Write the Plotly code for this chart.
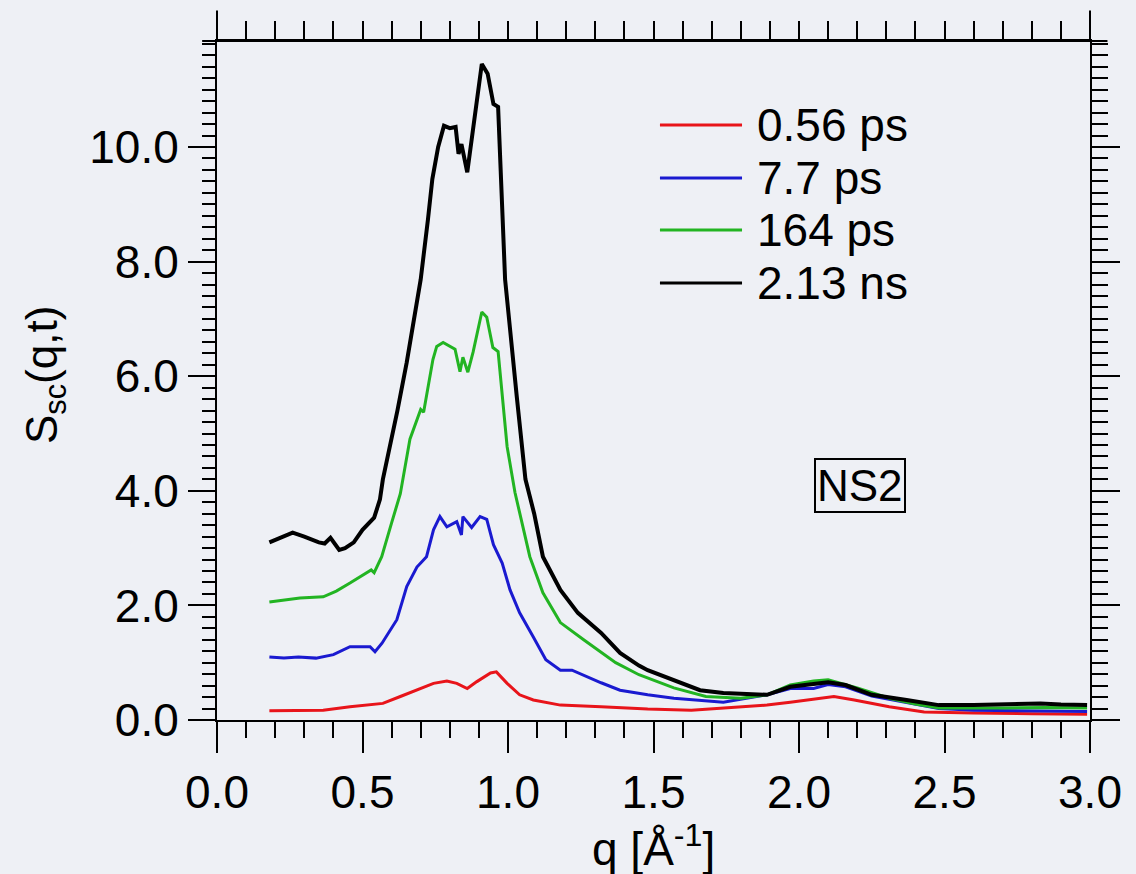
import plotly.graph_objects as go

# ---------------- data ----------------
series_names = ["0.56 ps", "7.7 ps", "164 ps", "2.13 ns"]
series_colors = ["#e8141a", "#1a1ad0", "#22b422", "#000000"]
series_widths = [3, 3, 3, 4]

q_red = [0.18, 0.365, 0.457, 0.57, 0.63, 0.70, 0.744, 0.79, 0.824, 0.86, 0.893, 0.94, 0.96,
         0.997, 1.04, 1.087, 1.18, 1.32, 1.48, 1.63, 1.74, 1.89, 1.97, 2.05, 2.12, 2.19,
         2.31, 2.43, 2.60, 2.80, 2.99]
s_red = [0.16, 0.17, 0.23, 0.29, 0.41, 0.55, 0.64, 0.68, 0.64, 0.55, 0.67, 0.82, 0.84,
         0.64, 0.44, 0.35, 0.26, 0.23, 0.19, 0.17, 0.21, 0.26, 0.31, 0.36, 0.41, 0.35,
         0.23, 0.14, 0.12, 0.11, 0.10]

q_blue = [0.18, 0.23, 0.28, 0.34, 0.40, 0.457, 0.526, 0.543, 0.567, 0.618, 0.652, 0.687,
          0.72, 0.744, 0.766, 0.79, 0.824, 0.84, 0.845, 0.875, 0.904, 0.927, 0.95, 0.98,
          1.007, 1.04, 1.087, 1.13, 1.18, 1.22, 1.32, 1.385, 1.48, 1.57, 1.74, 1.82, 1.89,
          1.97, 2.05, 2.10, 2.16, 2.25, 2.37, 2.48, 2.60, 2.80, 2.99]
s_blue = [1.10, 1.08, 1.10, 1.08, 1.14, 1.28, 1.28, 1.19, 1.34, 1.75, 2.33, 2.67,
          2.85, 3.32, 3.55, 3.37, 3.46, 3.23, 3.55, 3.36, 3.55, 3.50, 3.06, 2.74,
          2.27, 1.87, 1.45, 1.05, 0.87, 0.87, 0.65, 0.52, 0.44, 0.38, 0.31, 0.38, 0.44,
          0.55, 0.55, 0.62, 0.58, 0.42, 0.30, 0.20, 0.17, 0.16, 0.15]

q_green = [0.18, 0.24, 0.285, 0.365, 0.41, 0.457, 0.50, 0.53, 0.54, 0.566, 0.60, 0.63,
           0.663, 0.70, 0.71, 0.742, 0.755, 0.777, 0.818, 0.835, 0.845, 0.862, 0.88,
           0.91, 0.927, 0.948, 0.966, 0.98, 0.997, 1.024, 1.04, 1.075, 1.12, 1.18, 1.26,
           1.37, 1.45, 1.57, 1.68, 1.80, 1.89, 1.97, 2.05, 2.10, 2.20, 2.31, 2.40, 2.48,
           2.71, 2.85, 2.99]
s_green = [2.06, 2.10, 2.13, 2.15, 2.25, 2.39, 2.52, 2.62, 2.57, 2.85, 3.44, 3.95,
           4.90, 5.42, 5.37, 6.29, 6.52, 6.59, 6.47, 6.08, 6.33, 6.07, 6.42,
           7.12, 7.03, 6.50, 6.43, 5.65, 4.77, 3.97, 3.60, 2.85, 2.22, 1.70, 1.40,
           1.00, 0.79, 0.56, 0.41, 0.38, 0.44, 0.61, 0.68, 0.70, 0.56, 0.38, 0.28, 0.21,
           0.21, 0.22, 0.21]

q_black = [0.18, 0.22, 0.26, 0.30, 0.35, 0.37, 0.39, 0.42, 0.44, 0.47, 0.50, 0.54, 0.56,
           0.57, 0.595, 0.62, 0.652, 0.68, 0.70, 0.725, 0.74, 0.76, 0.78, 0.80, 0.82,
           0.83, 0.84, 0.86, 0.88, 0.91, 0.93, 0.95, 0.966, 0.98, 0.985, 0.99, 1.03,
           1.06, 1.075, 1.09, 1.12, 1.18, 1.24, 1.32, 1.385, 1.45, 1.48, 1.57, 1.66,
           1.74, 1.89, 1.97, 2.05, 2.10, 2.16, 2.25, 2.37, 2.48, 2.60, 2.70, 2.83, 2.90, 2.99]
s_black = [3.10, 3.18, 3.27, 3.20, 3.10, 3.08, 3.18, 2.97, 3.00, 3.10, 3.32, 3.53, 3.85,
           4.20, 4.77, 5.40, 6.24, 7.10, 7.69, 8.74, 9.44, 10.00, 10.37, 10.33, 10.35,
           9.88, 10.05, 9.56, 10.31, 11.45, 11.28, 10.75, 10.70, 9.14, 8.57, 7.69, 5.65,
           4.20, 3.90, 3.60, 2.85, 2.27, 1.87, 1.52, 1.17, 0.95, 0.87, 0.70, 0.52,
           0.47, 0.44, 0.58, 0.64, 0.66, 0.61, 0.44, 0.35, 0.26, 0.26, 0.27, 0.29, 0.27, 0.26]

q_series = [q_red, q_blue, q_green, q_black]
s_series = [s_red, s_blue, s_green, s_black]

x_range = [0.0, 3.0]
y_range = [0.0, 11.85]
sample_label = "NS2"

# ---------------- figure ----------------
FONT = "Liberation Sans, Arial, Helvetica, sans-serif"
BG = "#eef0f5"
fig = go.Figure()

for name, col, w, qq, ss in zip(series_names, series_colors, series_widths, q_series, s_series):
    fig.add_trace(go.Scatter(x=qq, y=ss, mode="lines", name=name,
                             line=dict(color=col, width=w), showlegend=False))

# invisible trace to materialise the top/right tick axes
fig.add_trace(go.Scatter(x=[x_range[0]], y=[y_range[0]], xaxis="x2", yaxis="y2",
                         mode="markers", marker=dict(opacity=0), showlegend=False,
                         hoverinfo="skip"))

tick_font = dict(family=FONT, size=46, color="black")

fig.update_layout(
    width=1136, height=874,
    margin=dict(l=217, r=46, t=41, b=154),
    paper_bgcolor=BG, plot_bgcolor=BG,
    font=dict(family=FONT, color="black"),
    xaxis=dict(range=x_range, tick0=0, dtick=0.5, tickformat=".1f",
               ticks="outside", ticklen=31, tickwidth=2, tickcolor="black",
               minor=dict(dtick=0.1, ticks="outside", ticklen=16, tickwidth=2,
                          tickcolor="black", showgrid=False),
               showline=True, linewidth=2, linecolor="black",
               showgrid=False, zeroline=False, tickfont=tick_font),
    yaxis=dict(range=y_range, tick0=0, dtick=2, tickformat=".1f",
               ticks="outside", ticklen=27, tickwidth=2, tickcolor="black",
               minor=dict(dtick=0.2, ticks="outside", ticklen=13, tickwidth=2,
                          tickcolor="black", showgrid=False),
               showline=True, linewidth=2, linecolor="black",
               showgrid=False, zeroline=False, tickfont=tick_font),
    xaxis2=dict(overlaying="x", side="top", anchor="y", range=x_range,
                tick0=0, dtick=0.1, ticks="outside", ticklen=18, tickwidth=2,
                tickcolor="black", showticklabels=False, showline=True,
                linewidth=2, linecolor="black", showgrid=False, zeroline=False),
    yaxis2=dict(overlaying="y", side="right", anchor="x", range=y_range,
                tick0=0, dtick=2, ticks="outside", ticklen=28, tickwidth=2,
                tickcolor="black",
                minor=dict(dtick=0.2, ticks="outside", ticklen=16, tickwidth=2,
                           tickcolor="black", showgrid=False),
                showticklabels=False, showline=True, linewidth=2,
                linecolor="black", showgrid=False, zeroline=False),
)

# axis-line overhangs at the top corners
shape_line = dict(color="black", width=2)
fig.add_shape(type="line", xref="paper", yref="paper", x0=-0.017, x1=1.02, y0=1, y1=1,
              line=shape_line)
fig.add_shape(type="line", xref="paper", yref="paper", x0=0, x1=0, y0=1, y1=1.045,
              line=shape_line)
fig.add_shape(type="line", xref="paper", yref="paper", x0=1, x1=1, y0=1, y1=1.045,
              line=shape_line)

# manual legend (long line samples as in the reference)
leg_y = [0.8763, 0.7982, 0.7216, 0.6436]
for name, col, yy in zip(series_names, series_colors, leg_y):
    fig.add_shape(type="line", xref="paper", yref="paper", x0=0.5074, x1=0.6014,
                  y0=yy, y1=yy, line=dict(color=col, width=3))
    fig.add_annotation(xref="paper", yref="paper", x=0.6163, y=yy, text=name,
                       xanchor="left", yanchor="middle", showarrow=False,
                       font=dict(family=FONT, size=46, color="black"))

# sample label in a box
fig.add_annotation(xref="paper", yref="paper", x=0.7366, y=0.346, text=sample_label,
                   showarrow=False, xanchor="center", yanchor="middle",
                   font=dict(family=FONT, size=44, color="black"),
                   bordercolor="black", borderwidth=2, borderpad=1, bgcolor=BG)

# axis titles
fig.add_annotation(xref="paper", yref="paper", x=0.5, y=-0.185,
                   text="q [Å<sup>-1</sup>]", showarrow=False,
                   xanchor="center", yanchor="middle",
                   font=dict(family=FONT, size=46, color="black"))
fig.add_annotation(xref="paper", yref="paper", x=-0.197, y=0.508,
                   text="S<sub>sc</sub>(q,t)", showarrow=False, textangle=-90,
                   xanchor="center", yanchor="middle",
                   font=dict(family=FONT, size=44, color="black"))

fig.write_html("out.html")
